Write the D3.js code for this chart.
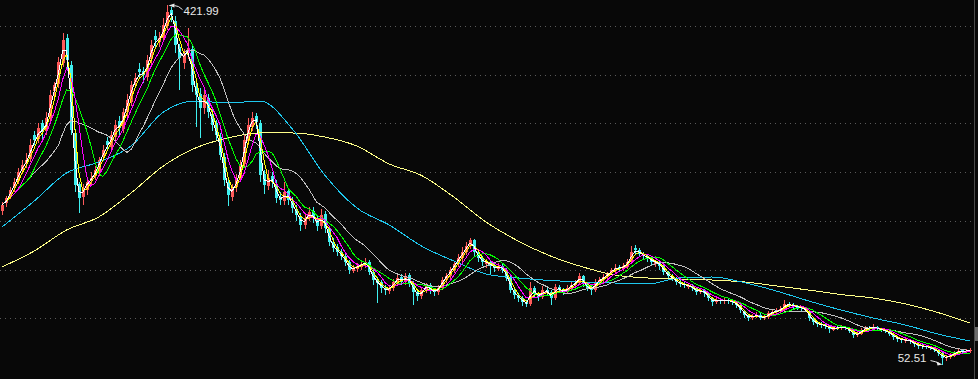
<!DOCTYPE html>
<html>
<head>
<meta charset="utf-8">
<script src="https://cdn.jsdelivr.net/npm/d3@7"></script>
<style>
	html, body { margin: 0; padding: 0; background: #080808; }
	svg { display: block; }
</style>
</head>
<body>
<svg id="chart" width="978" height="379"></svg>
<script>
// daily candles, oldest first (one candle per few sessions)
var opens = [
	210, 218, 225, 234, 241, 252, 258, 264, 288, 284,
	300, 292, 306, 333, 340, 362, 388, 360, 290, 238,
	225, 232, 242, 246, 250, 266, 282, 276, 286, 302,
	294, 312, 322, 343, 356, 354, 348, 366, 390, 384,
	388, 400, 416, 405, 378, 362, 372, 376, 338, 330,
	316, 326, 310, 300, 286, 266, 240, 224, 235, 244,
	258, 282, 296, 308, 300, 248, 236, 246, 238, 224,
	220, 231, 220, 212, 205, 196, 203, 210, 203, 195,
	207, 192, 178, 173, 168, 164, 158, 149, 151, 153,
	155, 158, 148, 140, 137, 131, 128, 131, 137, 142,
	137, 144, 136, 127, 123, 129, 134, 129, 127, 131,
	139, 143, 150, 156, 162, 168, 174, 180, 168, 162,
	156, 158, 154, 151, 154, 150, 141, 129, 124, 121,
	117, 115, 131, 125, 122, 129, 127, 121, 132, 129,
	127, 131, 134, 136, 143, 135, 131, 129, 137, 139,
	142, 146, 149, 153, 151, 153, 158, 172, 170, 166,
	164, 162, 156, 158, 154, 148, 143, 141, 137, 135,
	132, 133, 131, 127, 129, 126, 121, 117, 119, 117.5,
	119, 118, 117, 114, 108, 103, 100, 102, 103.5, 100,
	101, 105, 106, 107, 109, 115, 114, 112, 111.5, 110,
	108, 100, 96, 94, 93.5, 92, 88.5, 90.5, 90, 91,
	90, 87, 83, 84, 88, 90.5, 90, 91, 89, 88,
	87, 84, 81, 79, 77, 78, 76.5, 73.5, 72.5, 71.5,
	70.5, 69.5, 67.5, 64, 59, 60, 62, 64, 67, 66,
	66
];
var highs = [
	219, 226, 235, 244, 254, 262, 270, 284, 292, 300,
	304, 312, 334, 343, 368, 393, 392, 364, 294, 240,
	238, 245, 250, 256, 266, 278, 286, 292, 304, 308,
	316, 330, 344, 352, 362, 358, 370, 386, 396, 394,
	408, 421.99, 420, 410, 382, 376, 398, 380, 344, 336,
	334, 330, 314, 304, 290, 270, 244, 238, 248, 262,
	288, 306, 312, 311, 304, 252, 252, 250, 242, 230,
	240, 234, 224, 216, 208, 208, 214, 214, 206, 212,
	210, 195, 182, 176, 171, 167, 160, 155, 157, 159,
	162, 160, 150, 142, 139, 134, 134, 140, 144, 145,
	147, 146, 138, 129, 132, 136, 136, 131, 134, 142,
	147, 153, 159, 166, 173, 178, 182.5, 181, 170, 164,
	161, 160, 156, 157, 156, 152, 143, 131, 126, 123,
	119, 137, 133, 127, 133, 132, 129, 135, 134, 131,
	134, 137, 139, 146, 144, 137, 133, 140, 142, 145,
	148, 152, 156, 155, 157, 161, 174.2, 175, 172, 168,
	166, 164, 160, 159, 155, 149, 145, 142, 139, 137,
	136, 135, 132, 131, 130, 127, 122, 121, 121, 121,
	121, 120, 118, 115, 109, 104, 104, 106, 105, 103,
	108, 109, 111, 113, 118.5, 117, 116, 114, 113, 112,
	109, 101, 97, 96, 95, 93, 92, 92, 93, 92,
	91, 88, 86, 90, 92, 92, 94, 92, 90, 89,
	88, 85, 82, 80, 80, 79, 77, 74, 74, 73,
	72, 70, 68, 65, 62, 64, 66, 68, 69, 68,
	70
];
var lows = [
	206, 214, 222, 230, 238, 248, 254, 260, 278, 280,
	284, 288, 302, 326, 336, 358, 356, 288, 230, 208,
	216, 227, 236, 242, 246, 262, 272, 272, 282, 288,
	290, 306, 318, 336, 346, 342, 344, 360, 378, 378,
	384, 396, 404, 372, 334, 356, 366, 332, 296.5, 285,
	310, 306, 292, 282, 262, 236, 215, 220, 230, 240,
	254, 278, 292, 294, 240, 228, 232, 234, 218, 216,
	216, 216, 208, 200, 190, 192, 200, 198, 190, 192,
	188, 174, 168, 164, 160, 154, 145, 146, 148, 150,
	152, 144, 134, 116, 126, 124, 125, 128, 134, 134,
	134, 132, 114, 118, 120, 126, 125, 123, 124, 129,
	136, 140, 147, 153, 158, 165, 171, 164, 158, 154,
	152, 144, 148, 149, 146, 138, 126, 120, 117, 113,
	111.6, 113, 121, 118, 120, 123, 113.7, 119, 126, 124,
	125, 128, 131, 134, 132, 128, 124, 127, 134, 137,
	140, 144, 147, 149, 149, 151, 156, 166, 163, 161,
	158, 154, 153, 150, 144, 140, 138, 134, 132, 131,
	130, 128, 124, 125, 122, 118, 113, 115, 115, 115,
	115, 114, 111, 105, 100, 97, 98, 100, 98, 98,
	99, 103, 104, 105, 107, 111, 110, 109, 108, 106,
	97, 93, 91, 90, 89, 85, 87, 88, 88, 88,
	85, 80, 81, 83, 87, 88, 89, 87, 86, 85,
	82, 78, 76, 75, 75, 74, 71, 69, 69, 68,
	67, 65, 61, 52.51, 56, 58, 60, 62, 64, 64,
	64
];
var closes = [
	216.3, 223.5, 231.7, 239.9, 250.2, 257.3, 262.5, 277.9, 283.0, 295.3,
	291.2, 305.6, 329.3, 339.5, 363.1, 385.6, 365.1, 293.3, 236.8, 223.5,
	233.7, 239.9, 244.0, 252.2, 262.5, 272.7, 277.9, 288.1, 298.4, 295.3,
	311.7, 324.1, 339.5, 346.6, 352.8, 349.7, 365.1, 380.5, 385.6, 387.7,
	401.0, 414.4, 411.3, 380.5, 367.2, 370.3, 377.4, 339.5, 329.2, 315.9,
	329.2, 311.7, 298.4, 288.1, 267.6, 242.0, 226.6, 233.7, 242.0, 257.3,
	283.0, 298.4, 305.6, 301.5, 247.1, 236.8, 244.0, 239.9, 223.5, 221.4,
	229.6, 221.4, 213.2, 206.0, 195.8, 202.9, 209.1, 202.9, 194.7, 206.0,
	192.7, 178.3, 172.2, 168.1, 163.9, 157.8, 149.6, 151.6, 153.7, 155.7,
	157.8, 147.5, 139.3, 136.2, 131.1, 129.0, 131.1, 137.3, 141.4, 137.3,
	143.4, 136.2, 127.0, 122.9, 129.0, 133.2, 129.0, 127.0, 131.1, 139.3,
	143.4, 149.6, 155.7, 161.9, 168.1, 174.2, 180.4, 168.1, 161.9, 157.8,
	157.8, 153.7, 151.6, 153.7, 149.6, 141.4, 129.0, 123.9, 120.8, 116.7,
	114.7, 131.1, 124.9, 121.9, 129.0, 127.0, 120.8, 132.1, 129.0, 127.0,
	131.1, 134.2, 136.2, 143.4, 135.2, 131.1, 129.0, 137.3, 139.3, 142.4,
	145.5, 149.6, 151.6, 151.6, 153.7, 157.8, 168.1, 170.1, 166.0, 163.9,
	161.9, 157.8, 157.8, 153.7, 147.5, 143.4, 141.4, 137.3, 135.2, 134.2,
	133.2, 131.1, 127.0, 129.0, 126.0, 120.8, 116.7, 118.8, 117.8, 118.8,
	117.8, 116.7, 113.7, 108.5, 103.4, 100.3, 102.4, 103.4, 100.3, 101.3,
	105.4, 106.5, 107.5, 109.5, 114.7, 113.7, 112.6, 111.6, 110.6, 108.5,
	100.3, 96.2, 94.1, 93.1, 92.1, 89.0, 90.0, 90.0, 91.1, 90.0,
	87.0, 82.9, 83.9, 88.0, 90.0, 90.0, 91.1, 89.0, 88.0, 87.0,
	83.9, 80.8, 78.8, 77.7, 77.7, 76.7, 73.6, 71.6, 71.6, 70.5,
	69.5, 67.5, 64.4, 59.3, 60.3, 62.3, 64.4, 66.4, 66.4, 66.4,
	67.5
];

// long averages, one value every 8 candles
var ma120 = [193.7, 220.4, 249.1, 260.4, 276.8, 311.7, 323.0, 321.0, 323.0, 294.3,
	247.1, 213.2, 195.8, 174.2, 158.8, 145.5, 141.4, 138.8, 137.3, 136.2,
	135.2, 141.4, 142.4, 136.7, 128.0, 117.8, 108.5, 100.3, 93.1, 83.9, 76.7];
var ma250 = [152.7, 169.1, 190.6, 204.0, 228.6, 256.3, 274.8, 285.1, 290.2, 290.2,
	286.1, 276.8, 258.4, 246.6, 224.5, 198.8, 179.3, 163.9, 152.7, 144.4,
	141.4, 140.3, 139.3, 137.3, 133.2, 129.0, 124.4, 120.8, 114.7, 106.0, 95.2];
var sampleStep = 8;

var gridLevels = [100, 150, 200, 250, 300, 350, 400];

var svg = d3.select("#chart");

var x = d3.scaleLinear().domain([0, closes.length - 1]).range([2, 970]);
var y = d3.scaleLinear().domain([100, 400]).range([318.3, 26]);

// dotted price grid
svg.append("g").selectAll("line")
	.data(gridLevels)
	.enter().append("line")
	.attr("x1", 0)
	.attr("x2", 973)
	.attr("y1", function(d) { return Math.round(y(d)) + 0.5; })
	.attr("y2", function(d) { return Math.round(y(d)) + 0.5; })
	.attr("stroke", "#5a5a5a")
	.attr("stroke-dasharray", "1,4");

// right frame
svg.append("line")
	.attr("x1", 974.5).attr("x2", 974.5)
	.attr("y1", 0).attr("y2", 379)
	.attr("stroke", "#4a4a4a");
svg.append("rect")
	.attr("x", 975).attr("y", 327)
	.attr("width", 3).attr("height", 14)
	.attr("fill", "#6a6a6a");

var bars = closes.map(function(c, i) {
	return { i: i, o: opens[i], h: highs[i], l: lows[i], c: c };
});

var upColour = "#ff5a5a", downColour = "#3ff0f0";

var candle = svg.append("g")
	.attr("shape-rendering", "crispEdges")
	.selectAll(".candle")
	.data(bars)
	.enter().append("g")
	.attr("class", "candle");

candle.append("line")
	.attr("x1", function(d) { return Math.round(x(d.i)) + 0.5; })
	.attr("x2", function(d) { return Math.round(x(d.i)) + 0.5; })
	.attr("y1", function(d) { return y(d.h); })
	.attr("y2", function(d) { return y(d.l); })
	.attr("stroke", function(d) { return d.c >= d.o ? upColour : downColour; });

candle.append("rect")
	.attr("x", function(d) { return Math.round(x(d.i)) - 1; })
	.attr("width", 3)
	.attr("y", function(d) { return y(Math.max(d.o, d.c)); })
	.attr("height", function(d) { return Math.max(1, Math.abs(y(d.o) - y(d.c))); })
	.attr("fill", function(d) { return d.c >= d.o ? upColour : downColour; });

// moving averages
function movingAvg(vals, n) {
	return vals.map(function(v, i) {
		return d3.mean(vals.slice(Math.max(0, i - n + 1), i + 1));
	});
}

var line = d3.line()
	.x(function(d) { return x(d[0]); })
	.y(function(d) { return y(d[1]); });

var smoothLine = d3.line()
	.x(function(d) { return x(d[0]); })
	.y(function(d) { return y(d[1]); })
	.curve(d3.curveMonotoneX);

var maGroup = svg.append("g")
	.attr("fill", "none")
	.attr("stroke-width", 1)
	.attr("shape-rendering", "crispEdges");

[[ma250, "#ffff88"], [ma120, "#1ec8ee"]].forEach(function(m) {
	maGroup.append("path")
		.attr("d", smoothLine(m[0].map(function(v, k) { return [k * sampleStep, v]; })))
		.attr("stroke", m[1]);
});

// windows in candles: MA60, MA30, MA20, MA10, MA5
var shortMAs = [
	{ n: 15, colour: "#c0c0c0" },
	{ n: 8, colour: "#00ff00" },
	{ n: 5, colour: "#ff00ff" },
	{ n: 3, colour: "#ffff00" },
	{ n: 2, colour: "#ffffff" }
];
shortMAs.forEach(function(m) {
	var vals = movingAvg(closes, m.n);
	maGroup.append("path")
		.attr("d", line(vals.map(function(v, i) { return [i, v]; })))
		.attr("stroke", m.colour);
});

// high / low markers
var hiIdx = d3.maxIndex(highs), loIdx = d3.minIndex(lows);
var hx = Math.round(x(hiIdx)) + 0.5, hy = y(highs[hiIdx]);
var lx = Math.round(x(loIdx)) + 0.5, ly = y(lows[loIdx]);

var note = svg.append("g").attr("fill", "#e8e8e8").attr("stroke", "#e8e8e8");

note.append("path")
	.attr("d", "M" + (hx + 1) + "," + (hy + 1) + "L" + (hx + 7) + "," + (hy - 1) + "L" + (hx + 7) + "," + (hy + 3) + "Z")
	.attr("stroke", "none");
note.append("path")
	.attr("d", "M" + (hx + 7) + "," + (hy + 1) + "Q" + (hx + 11) + "," + (hy + 1) + " " + (hx + 15) + "," + (hy + 5))
	.attr("fill", "none");
note.append("text")
	.attr("x", hx + 16)
	.attr("y", hy + 10)
	.attr("stroke", "none")
	.style("font", "11.5px 'Liberation Sans', Arial, sans-serif")
	.text(d3.format(".2f")(highs[hiIdx]));

note.append("path")
	.attr("d", "M" + (lx - 12) + "," + (ly - 4) + "Q" + (lx - 6) + "," + (ly - 3) + " " + (lx - 3) + "," + (ly - 1))
	.attr("fill", "none");
note.append("path")
	.attr("d", "M" + (lx) + "," + (ly) + "L" + (lx - 6) + "," + (ly - 3) + "L" + (lx - 5) + "," + (ly + 1) + "Z")
	.attr("stroke", "none");
note.append("text")
	.attr("x", lx - 16)
	.attr("y", ly - 3)
	.attr("text-anchor", "end")
	.attr("stroke", "none")
	.style("font", "11.5px 'Liberation Sans', Arial, sans-serif")
	.text(d3.format(".2f")(lows[loIdx]));
</script>
</body>
</html>
